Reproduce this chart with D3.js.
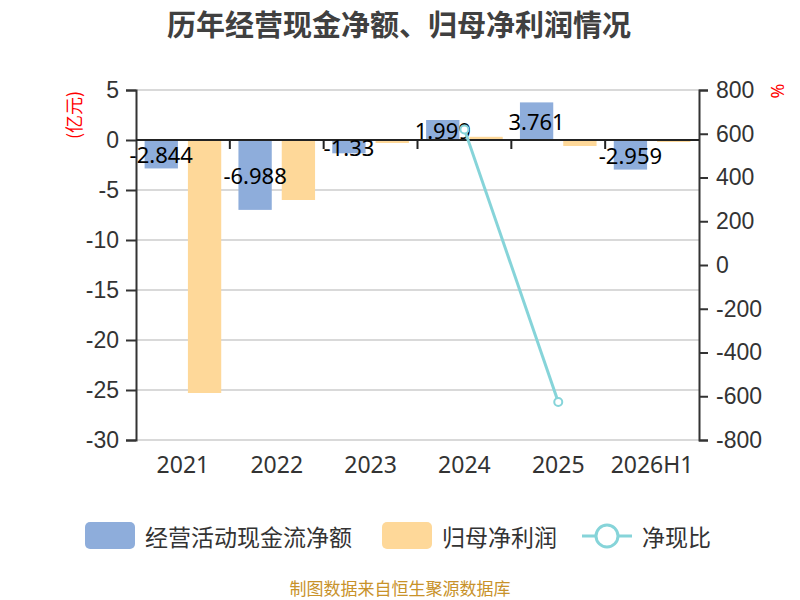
<!DOCTYPE html>
<html>
<head>
<meta charset="utf-8">
<script src="https://cdn.jsdelivr.net/npm/d3@7"></script>
<style>
  body { margin: 0; background: #fff; }
  svg { display: block; font-family: "Noto Sans", "Noto Sans CJK SC", sans-serif; }
</style>
</head>
<body>
<svg id="chart" width="800" height="600"></svg>
<script>
const years = ["2021", "2022", "2023", "2024", "2025", "2026H1"];
const cashFlow = [-2.844, -6.988, -1.33, 1.999, 3.761, -2.959];
const netProfit = [-25.3, -6.0, -0.3, 0.32, -0.6, -0.2];
const cashRatio = [null, null, null, 620, -626, null];
const leftTicks = [5, 0, -5, -10, -15, -20, -25, -30];
const rightTicks = [800, 600, 400, 200, 0, -200, -400, -600, -800];

const colors = { cash: "#8eaddb", profit: "#fed899", ratio: "#86d4d9" };
const cjk = "'Noto Sans CJK SC', sans-serif";

const svg = d3.select("#chart");
const plot = { left: 136, right: 699, top: 90, bottom: 440 };

const x = d3.scaleBand().domain(years).range([plot.left, plot.right]);
const y = d3.scaleLinear().domain([-30, 5]).range([plot.bottom, plot.top]);
const y2 = d3.scaleLinear().domain([-800, 800]).range([plot.bottom, plot.top]);

const barW = x.bandwidth() * 0.355;
const gap = barW * 0.3;
const groupStart = (x.bandwidth() - (barW * 2 + gap)) / 2;

// title
svg.append("text")
  .attr("x", 399).attr("y", 23)
  .attr("text-anchor", "middle").attr("dominant-baseline", "central")
  .attr("font-family", cjk)
  .attr("font-size", 29).attr("font-weight", "bold")
  .attr("fill", "#404040")
  .text("历年经营现金净额、归母净利润情况");

// grid
svg.append("g").selectAll("line")
  .data(leftTicks.filter(d => d !== 0))
  .join("line")
  .attr("x1", plot.left).attr("x2", plot.right)
  .attr("y1", d => y(d)).attr("y2", d => y(d))
  .attr("stroke", "#cccccc").attr("stroke-width", 1.5);

// bars
svg.append("g").selectAll("rect")
  .data(years)
  .join("rect")
  .attr("x", d => x(d) + groupStart)
  .attr("width", barW)
  .attr("y", (d, i) => y(Math.max(0, cashFlow[i])))
  .attr("height", (d, i) => Math.abs(y(cashFlow[i]) - y(0)))
  .attr("fill", colors.cash);

svg.append("g").selectAll("rect")
  .data(years)
  .join("rect")
  .attr("x", d => x(d) + groupStart + barW + gap)
  .attr("width", barW)
  .attr("y", (d, i) => y(Math.max(0, netProfit[i])))
  .attr("height", (d, i) => Math.abs(y(netProfit[i]) - y(0)))
  .attr("fill", colors.profit);

// left axis
const leftAxis = svg.append("g")
  .attr("transform", `translate(${plot.left},0)`)
  .call(d3.axisLeft(y).tickValues(leftTicks).tickFormat(d => String(d)).tickSize(10).tickPadding(7));
leftAxis.select(".domain").attr("stroke", "#333").attr("stroke-width", 2);
leftAxis.selectAll(".tick line").attr("stroke", "#333").attr("stroke-width", 2);
leftAxis.selectAll("text").attr("font-size", 23).attr("fill", "#333");

// right axis
const rightAxis = svg.append("g")
  .attr("transform", `translate(${plot.right},0)`)
  .call(d3.axisRight(y2).tickValues(rightTicks).tickFormat(d => String(d)).tickSize(9).tickPadding(8));
rightAxis.select(".domain").attr("stroke", "#333").attr("stroke-width", 2);
rightAxis.selectAll(".tick line").attr("stroke", "#333").attr("stroke-width", 2);
rightAxis.selectAll("text").attr("font-size", 23).attr("fill", "#333");

// x axis on zero line
const xAxis = svg.append("g")
  .attr("transform", `translate(0,${y(0)})`);
xAxis.append("line")
  .attr("x1", plot.left).attr("x2", plot.right)
  .attr("stroke", "#222").attr("stroke-width", 2);
xAxis.selectAll("line.tk")
  .data(years.slice(1))
  .join("line")
  .attr("class", "tk")
  .attr("x1", d => x(d)).attr("x2", d => x(d))
  .attr("y1", 0).attr("y2", 9)
  .attr("stroke", "#222").attr("stroke-width", 2);

svg.append("g").selectAll("text")
  .data(years)
  .join("text")
  .attr("x", d => x(d) + x.bandwidth() / 2)
  .attr("y", plot.bottom + 33)
  .attr("text-anchor", "middle")
  .attr("font-size", 23).attr("fill", "#333")
  .text(d => d);

// axis names
svg.append("text")
  .attr("transform", "translate(73,115) rotate(-90)")
  .attr("text-anchor", "middle").attr("dominant-baseline", "central")
  .attr("font-family", cjk).attr("font-size", 18).attr("fill", "#ff0000")
  .text("(亿元)");
svg.append("text")
  .attr("transform", "translate(777,91) rotate(-90)")
  .attr("text-anchor", "middle").attr("dominant-baseline", "central")
  .attr("font-size", 18).attr("fill", "#ff0000")
  .text("%");

// bar labels
svg.append("g").selectAll("text")
  .data(years)
  .join("text")
  .attr("x", d => x(d) + groupStart + barW / 2)
  .attr("y", (d, i) => (y(cashFlow[i]) + y(0)) / 2)
  .attr("text-anchor", "middle").attr("dominant-baseline", "central")
  .attr("font-size", 22).attr("fill", "#000")
  .text((d, i) => cashFlow[i]);

// ratio line
const pts = years.map((d, i) => ({ year: d, v: cashRatio[i] })).filter(p => p.v !== null);
svg.append("path")
  .datum(pts)
  .attr("fill", "none")
  .attr("stroke", colors.ratio).attr("stroke-width", 3)
  .attr("d", d3.line().x(p => x(p.year) + x.bandwidth() / 2).y(p => y2(p.v)));
svg.append("g").selectAll("circle")
  .data(pts)
  .join("circle")
  .attr("cx", p => x(p.year) + x.bandwidth() / 2)
  .attr("cy", p => y2(p.v))
  .attr("r", 4)
  .attr("fill", "#fff")
  .attr("stroke", colors.ratio).attr("stroke-width", 2);

// legend
const legend = svg.append("g").attr("font-family", cjk).attr("font-size", 23).attr("fill", "#333");
legend.append("rect").attr("x", 85).attr("y", 522).attr("width", 50).attr("height", 27).attr("rx", 5).attr("fill", colors.cash);
legend.append("text").attr("x", 145).attr("y", 536).attr("dominant-baseline", "central").text("经营活动现金流净额");
legend.append("rect").attr("x", 382).attr("y", 522).attr("width", 50).attr("height", 27).attr("rx", 5).attr("fill", colors.profit);
legend.append("text").attr("x", 442).attr("y", 536).attr("dominant-baseline", "central").text("归母净利润");
legend.append("line").attr("x1", 582).attr("x2", 632).attr("y1", 536).attr("y2", 536).attr("stroke", colors.ratio).attr("stroke-width", 3);
legend.append("circle").attr("cx", 607).attr("cy", 536).attr("r", 11).attr("fill", "#fff").attr("stroke", colors.ratio).attr("stroke-width", 3);
legend.append("text").attr("x", 642).attr("y", 536).attr("dominant-baseline", "central").text("净现比");

// source
svg.append("text")
  .attr("x", 400).attr("y", 587)
  .attr("text-anchor", "middle").attr("dominant-baseline", "central")
  .attr("font-family", cjk).attr("font-size", 17).attr("fill", "#c8922a")
  .text("制图数据来自恒生聚源数据库");
</script>
</body>
</html>
